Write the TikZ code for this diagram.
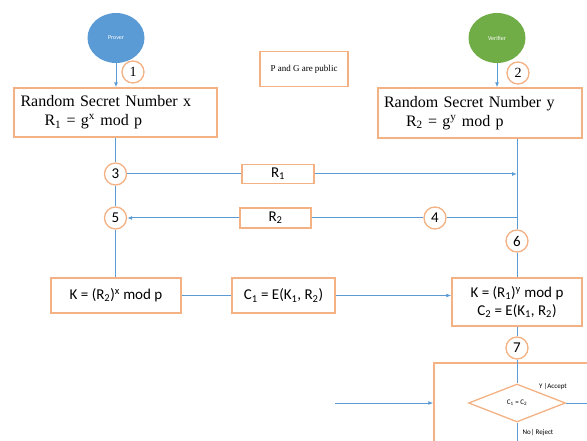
\documentclass[tikz,border=0pt]{standalone}
\usepackage{fontspec}
\setmainfont{Liberation Serif}
\newfontfamily\calib{Carlito}
\usetikzlibrary{shapes.geometric, arrows.meta, positioning}
\definecolor{boxorange}{RGB}{244,177,131}
\definecolor{lineblue}{RGB}{91,155,213}
\definecolor{proverblue}{RGB}{91,155,213}
\definecolor{verifiergreen}{RGB}{112,173,71}

\begin{document}
\begin{tikzpicture}[x=1pt, y=-1pt,
    box/.style={draw=boxorange, line width=1.3pt, fill=white, inner sep=0pt},
    numc/.style={circle, draw=boxorange, line width=1.3pt, fill=white, minimum size=22pt, inner sep=0pt},
    party/.style={ellipse, minimum width=57pt, minimum height=50pt, inner sep=0pt, text=white, font=\calib\fontsize{6}{7}\selectfont},
    link/.style={draw=lineblue, line width=1pt},
    arr/.style={link, -{Latex[length=5pt, width=4pt]}}]
    \clip (0,0) rectangle (587,441);

    % Prover side
    \node[party, fill=proverblue] (prover) at (116,38) {Prover};
    \node[numc, font=\fontsize{14}{14}\selectfont] (n1) at (133,72) {1};
    \node[box, text width=190pt, inner xsep=6.5pt, minimum height=49pt, align=left, font=\fontsize{16}{19}\selectfont] (lsecret) at (115.5,112.5)
        {Random Secret Number x\\\hspace*{24pt}R\textsubscript{1} = g\textsuperscript{x} mod p};

    % Verifier side
    \node[party, fill=verifiergreen] (verifier) at (497,38) {Verifier};
    \node[numc, font=\fontsize{14}{14}\selectfont] (n2) at (518,73) {2};
    \node[box, text width=192pt, inner xsep=6pt, minimum height=50pt, align=left, font=\fontsize{16}{19}\selectfont] (rsecret) at (480,113)
        {Random Secret Number y\\\hspace*{22pt}R\textsubscript{2} = g\textsuperscript{y} mod p};

    % Public values
    \node[box, minimum width=88pt, minimum height=35pt, font=\fontsize{9}{10}\selectfont] (public) at (304,69) {P and G are public};

    % Exchange
    \node[numc, font=\calib\fontsize{15}{15}\selectfont] (n3) at (115.5,174) {3};
    \node[numc, font=\calib\fontsize{15}{15}\selectfont] (n5) at (115.5,218) {5};
    \node[numc, font=\calib\fontsize{15}{15}\selectfont] (n4) at (435,218) {4};
    \node[numc, font=\calib\fontsize{15}{15}\selectfont] (n6) at (517,241) {6};
    \node[box, minimum width=72pt, minimum height=19pt, font=\calib\fontsize{15}{15}\selectfont] (r1) at (278,174) {R\textsubscript{1}};
    \node[box, minimum width=71pt, minimum height=20pt, font=\calib\fontsize{15}{15}\selectfont] (r2) at (275.5,218) {R\textsubscript{2}};

    % Keys
    \node[box, minimum width=130pt, minimum height=35pt, font=\calib\fontsize{15}{15}\selectfont] (lkey) at (116,295.5) {K = (R\textsubscript{2})\textsuperscript{x} mod p};
    \node[box, minimum width=103pt, minimum height=35pt, font=\calib\fontsize{15}{15}\selectfont] (c1) at (283.5,295.5) {C\textsubscript{1} = E(K\textsubscript{1}, R\textsubscript{2})};
    \node[box, minimum width=130pt, minimum height=48pt, align=center, font=\calib\fontsize{15}{18}\selectfont] (rkey) at (517,302)
        {K = (R\textsubscript{1})\textsuperscript{y} mod p\\C\textsubscript{2} = E(K\textsubscript{1}, R\textsubscript{2})};
    \node[numc, font=\calib\fontsize{15}{15}\selectfont] (n7) at (517,348) {7};

    % Check
    \node[box, fill=none, minimum width=170pt, minimum height=100pt] (check) at (519,413) {};
    \node[diamond, draw=boxorange, line width=1.3pt, fill=white, minimum width=97pt, minimum height=38pt, inner sep=0pt, font=\calib\fontsize{7}{7}\selectfont] (equal) at (517,403) {C\textsubscript{1} = C\textsubscript{2}};
    \node[font=\calib\fontsize{7}{7}\selectfont] (accept) at (553,387) {Y |Accept};
    \node[font=\calib\fontsize{7}{7}\selectfont] (reject) at (538,433) {No| Reject};
    \coordinate (feed) at (335,403);
    \coordinate (yesend) at (590,403);
    \coordinate (noend) at (517,445);

    % Connectors
    \draw[arr] (prover) -- (lsecret.north -| prover);
    \draw[arr] (verifier) -- (rsecret.north -| verifier);
    \draw[link] (lsecret.south -| n3) -- (n3) -- (n5) -- (lkey.north -| n5);
    \draw[link] (rsecret.south -| n6) -- (n6) -- (rkey.north -| n6);
    \draw[link] (n3) -- (r1);
    \draw[arr] (r1) -- (r1 -| n6);
    \draw[link] (n6 |- n4) -- (n4) -- (r2);
    \draw[arr] (r2) -- (n5);
    \draw[link] (lkey) -- (c1);
    \draw[arr] (c1) -- (c1 -| rkey.west);
    \draw[link] (rkey) -- (n7) -- (equal);
    \draw[arr] (feed) -- (feed -| check.west);
    \draw[link] (equal.east) -- (yesend);
    \draw[link] (equal.south) -- (noend);
\end{tikzpicture}
\end{document}
